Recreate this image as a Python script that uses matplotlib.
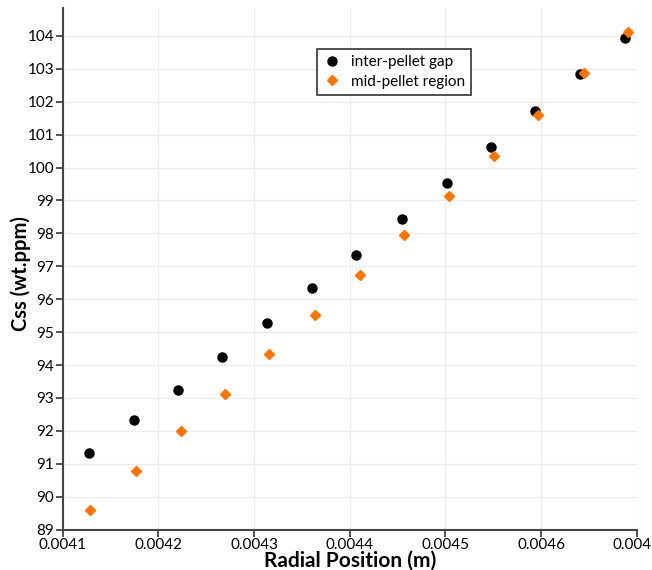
import matplotlib
matplotlib.use("Agg")
import matplotlib.pyplot as plt
from matplotlib.ticker import MultipleLocator, FormatStrFormatter

# radial positions (m) and steady-state concentration (wt.ppm)
r_gap = [0.004127, 0.004174, 0.004220, 0.004267, 0.004314, 0.004361, 0.004407,
         0.004455, 0.004502, 0.004548, 0.004594, 0.004641, 0.004688]
css_gap = [91.34, 92.32, 93.25, 94.25, 95.28, 96.34, 97.35,
           98.45, 99.53, 100.61, 101.71, 102.83, 103.95]

r_mid = [0.004129, 0.004177, 0.004224, 0.004270, 0.004316, 0.004364, 0.004411,
         0.004457, 0.004504, 0.004551, 0.004597, 0.004645, 0.004691]
css_mid = [89.59, 90.77, 91.98, 93.12, 94.32, 95.52, 96.74,
           97.95, 99.15, 100.36, 101.60, 102.87, 104.11]

plt.rcParams['font.family'] = ['Lato', 'DejaVu Sans']

fig = plt.figure(figsize=(6.52, 5.70), dpi=100)
ax = fig.add_axes([0.0962, 0.071, 0.8803, 0.915])

ax.plot(r_gap, css_gap, linestyle='none', marker='o', markersize=6.5,
        color='black', label='inter-pellet gap', zorder=3)
ax.plot(r_mid, css_mid, linestyle='none', marker='D', markersize=5.5,
        color='#ff7400', label='mid-pellet region', zorder=4)

ax.set_xlim(0.0041, 0.0047)
ax.set_ylim(89, 104.85)
ax.xaxis.set_major_locator(MultipleLocator(0.0001))
ax.xaxis.set_major_formatter(FormatStrFormatter('%.4f'))
ax.yaxis.set_major_locator(MultipleLocator(1))

ax.grid(True, color='#ececec', linewidth=1.0)
ax.set_axisbelow(True)
for side in ['top', 'right']:
    ax.spines[side].set_visible(False)
for side in ['left', 'bottom']:
    ax.spines[side].set_color('#444444')
    ax.spines[side].set_linewidth(1.5)
ax.tick_params(axis='both', direction='out', length=5, width=1.3,
               color='#444444', labelsize=11, pad=1)

ax.set_xlabel('Radial Position (m)', fontsize=15, fontweight='bold', labelpad=-1)
ax.set_ylabel('Css (wt.ppm)', fontsize=14.5, fontweight='bold', va='center')
ax.yaxis.set_label_coords(-0.073, 0.49)

leg = ax.legend(loc='upper left', bbox_to_anchor=(0.443, 0.921), borderaxespad=0,
                frameon=True, fancybox=False, edgecolor='#333333', framealpha=1,
                fontsize=11, handletextpad=0.6, borderpad=0.4,
                handlelength=1.2, labelspacing=0.35)
leg.get_frame().set_linewidth(1.2)

fig.savefig('out.png', dpi=100)
